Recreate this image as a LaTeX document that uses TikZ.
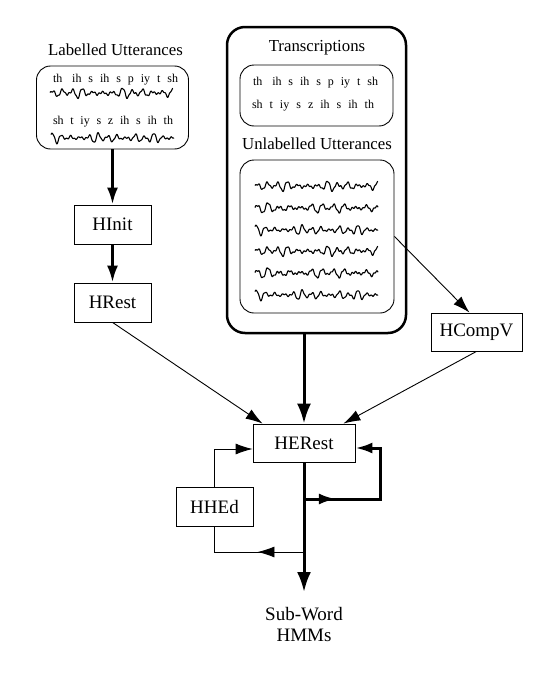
\documentclass[tikz,border=0pt]{standalone}
\usepackage{fontspec}
\setmainfont{Liberation Serif}
\usetikzlibrary{arrows.meta,calc}
\newcommand{\wavA}[2]{\draw[wav] plot[domain=0:123,samples=300,variable=\t] ({#1+\t},{#2-(0.6+4.8*abs(sin(\t*3.3+10))*abs(sin(\t*8.1+30)))*sin(\t*36)-0.9*sin(\t*97+30)});}
\newcommand{\wavB}[2]{\draw[wav] plot[domain=0:123,samples=300,variable=\t] ({#1+\t},{#2-(0.6+4.8*abs(sin(\t*2.9+60))*abs(sin(\t*7.2+10)))*sin(\t*33+20)-0.9*sin(\t*101)});}
\newcommand{\wavC}[2]{\draw[wav] plot[domain=0:123,samples=300,variable=\t] ({#1+\t},{#2-(0.4+5.0*abs(sin(\t*3.8+80))*abs(sin(\t*9.0+50)))*sin(\t*39+40)-0.8*sin(\t*93+70)});}
\begin{document}
\begin{tikzpicture}[x=1pt,y=-1pt,
  box/.style={draw,line width=0.8pt,inner sep=0pt,minimum width=77pt,minimum height=39pt,font=\fontsize{19}{21}\selectfont},
  rbox/.style={draw,line width=0.9pt,rounded corners=14pt,inner sep=0pt},
  ttl/.style={inner sep=0pt,font=\fontsize{16.8}{19}\selectfont},
  ph/.style={inner sep=0pt,font=\fontsize{12}{14}\selectfont},
  lbl/.style={inner sep=0pt,align=center,font=\fontsize{19}{21}\selectfont},
  wav/.style={line width=1.1pt,line join=round},
  thn/.style={line width=0.9pt},
  thk/.style={line width=3pt},
  tip/.style={-{Latex[length=17pt,width=11pt]}},
  btip/.style={-{Latex[length=20pt,width=14pt]}}]
\useasboundingbox (0,0) rectangle (548,680);

% labelled utterances
\node[ttl] (labt) at (115.5,50) {Labelled Utterances};
\node[rbox,minimum width=152pt,minimum height=83pt] (lab) at (112.5,107.5) {};
\node[ph] (lab1) at (115.5,80) {\makebox[125pt][s]{th\hspace{3pt} ih s ih s p iy t sh}};
\node[ph] (lab2) at (113,122) {\makebox[120pt][s]{sh t iy s z ih s ih th}};
\wavA{50}{93}
\wavC{51}{138}

% big box
\node[draw,line width=2.5pt,rounded corners=18pt,inner sep=0pt,minimum width=179pt,minimum height=306pt] (big) at (316.5,180) {};
\node[ttl] (trt) at (317,48) {Transcriptions};
\node[rbox,minimum width=153pt,minimum height=61pt] (trans) at (316.5,95.5) {};
\node[ph] (tr1) at (315.5,83) {\makebox[125pt][s]{th\hspace{3pt} ih s ih s p iy t sh}};
\node[ph] (tr2) at (313,106) {\makebox[122pt][s]{sh t iy s z ih s ih th}};
\node[ttl] (unt) at (317,144) {Unlabelled Utterances};
\node[rbox,minimum width=154pt,minimum height=153pt] (unl) at (317,236.5) {};
\wavA{255}{186}
\wavB{255}{208}
\wavC{255}{230}
\wavA{255}{251}
\wavB{255}{273}
\wavC{255}{295}

% tool boxes
\node[box] (hinit) at (112.5,224.5) {HInit};
\node[box] (hrest) at (112.5,302.5) {HRest};
\node[box,minimum width=91pt,minimum height=38pt] (hcompv) at (476.5,332) {HCompV};
\node[box,minimum width=102pt,minimum height=38pt] (herest) at (304,443) {HERest};
\node[box] (hhed) at (214.5,506.5) {HHEd};
\node[lbl] (sw) at (304,624) {Sub-Word\\HMMs};

% connectors
\draw[thk,tip] (lab) -- (hinit);
\draw[thk,tip] (hinit) -- (hrest);
\draw[thn,tip] (hrest.south) -- ([xshift=10pt]herest.north west);
\draw[thk,btip] (herest.north |- big.south) -- (herest.north);
\draw[thn,tip] (unl.east) -- ([xshift=-7pt]hcompv.north);
\draw[thn,tip] (hcompv.south) -- ([xshift=-12pt]herest.north east);
\coordinate (out) at (304,592);
\draw[thk,btip] (herest.south) -- (out);

% right loop
\coordinate (r1) at (304,499);
\coordinate (r2) at (380,499);
\coordinate (r3) at (380,448);
\draw[thk,tip] (r1) -- (r2) -- (r3) -- (herest.east |- r3);
\draw[thk,tip] (r1) -- ($(r1)!0.42!(r2)$);

% left loop
\coordinate (l1) at (304,552);
\coordinate (l3) at (214.5,449);
\draw[thn] (l1) -- (hhed.south |- l1) -- (hhed.south);
\draw[thn,tip] (l1) -- ($(l1)!0.52!(hhed.south |- l1)$);
\draw[thn,tip] (hhed.north) -- (hhed.north |- l3) -- (herest.west |- l3);
\end{tikzpicture}
\end{document}
